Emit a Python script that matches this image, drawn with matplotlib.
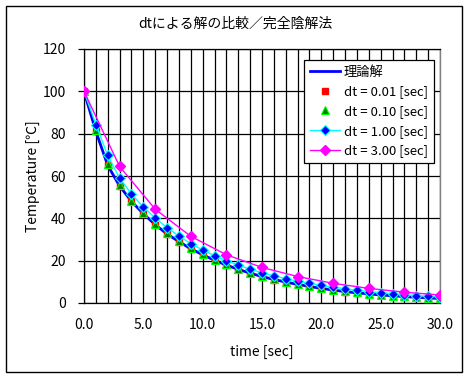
import matplotlib
matplotlib.use('Agg')
import matplotlib.pyplot as plt
from matplotlib.ticker import MultipleLocator, FormatStrFormatter
from matplotlib.patches import Rectangle

plt.rcParams['font.family'] = ['Noto Sans CJK JP', 'DejaVu Sans']

# time [sec]
t = list(range(0, 31))
t3 = list(range(0, 31, 3))

# 理論解
theory = [100, 81.1, 65.0, 55.3, 48.0, 42.2, 37.0, 32.6, 29.0, 25.6, 22.8,
          20.2, 17.9, 15.9, 14.1, 12.5, 11.1, 9.9, 8.8, 7.8, 6.9,
          6.1, 5.4, 4.8, 4.3, 3.8, 3.4, 3.0, 2.7, 2.4, 2.1]
# dt = 0.01
dt001 = [100, 81.1, 65.0, 55.3, 48.0, 42.2, 37.0, 32.6, 29.0, 25.6, 22.8,
         20.2, 17.9, 15.9, 14.1, 12.5, 11.1, 9.9, 8.8, 7.8, 6.9,
         6.1, 5.4, 4.8, 4.3, 3.8, 3.4, 3.0, 2.7, 2.4, 2.1]
# dt = 0.10
dt010 = [100, 81.5, 65.6, 55.8, 48.4, 42.6, 37.4, 33.0, 29.3, 26.0, 23.1,
         20.5, 18.2, 16.2, 14.3, 12.7, 11.3, 10.1, 9.0, 8.0, 7.1,
         6.3, 5.6, 5.0, 4.4, 3.9, 3.5, 3.1, 2.8, 2.5, 2.2]
# dt = 1.00
dt100 = [100, 84.3, 69.7, 59.0, 51.5, 45.3, 40.2, 35.6, 31.6, 28.1, 25.0,
         22.4, 20.0, 17.9, 16.0, 14.3, 12.8, 11.5, 10.3, 9.3, 8.3,
         7.5, 6.7, 6.0, 5.4, 4.9, 4.4, 3.9, 3.5, 3.2, 2.9]
# dt = 3.00
dt300 = [100, 64.5, 44.3, 31.5, 22.8, 16.8, 12.5, 9.3, 6.9, 5.1, 3.8]

fig = plt.figure(figsize=(4.69, 3.80), dpi=100)
ax = fig.add_axes([84 / 469, 77 / 380, 356 / 469, 254 / 380])

ax.plot(t, theory, color='#0000ff', lw=2.0, label='理論解', zorder=3)
ax.plot(t, dt001, ls='none', marker='s', ms=5, mfc='#ff0000', mec='#ff0000',
        label='dt = 0.01 [sec]', zorder=4)
ax.plot(t, dt010, ls='none', marker='^', ms=5.5, mfc='#008000', mec='#00ff00',
        mew=0.8, label='dt = 0.10 [sec]', zorder=5)
ax.plot(t, dt100, color='#00ffff', lw=1.0, marker='D', ms=5.5, mfc='#0000ff',
        mec='#00ffff', mew=0.8, label='dt = 1.00 [sec]', zorder=6)
ax.plot(t3, dt300, color='#ff00ff', lw=1.0, marker='D', ms=5.5, mfc='#ff00ff',
        mec='#ff00ff', label='dt = 3.00 [sec]', zorder=7)

ax.set_xlim(0, 30)
ax.set_ylim(0, 120)
ax.xaxis.set_major_locator(MultipleLocator(5))
ax.xaxis.set_minor_locator(MultipleLocator(1))
ax.xaxis.set_major_formatter(FormatStrFormatter('%.1f'))
ax.yaxis.set_major_locator(MultipleLocator(20))
ax.grid(True, which='both', axis='x', color='black', lw=0.9)
ax.grid(True, which='major', axis='y', color='black', lw=0.9)
ax.set_axisbelow(True)
ax.tick_params(axis='x', which='both', length=0, pad=11, labelsize=10)
ax.tick_params(axis='y', length=4, width=0.9, pad=9, labelsize=10)
for s in ['left', 'bottom', 'top']:
    ax.spines[s].set_color('black')
    ax.spines[s].set_linewidth(0.9)
ax.spines['right'].set_color('#808080')
ax.spines['right'].set_linewidth(1.0)

leg = ax.legend(loc='upper right', bbox_to_anchor=(0.983, 0.957), borderaxespad=0,
                fontsize=9.5, frameon=True, fancybox=False, framealpha=1,
                edgecolor='black', handlelength=2.3, handletextpad=0.3,
                labelspacing=0.5, borderpad=0.45)
leg.get_frame().set_linewidth(0.9)
leg.set_zorder(10)

fig.text(235 / 469, 1 - 24 / 380, 'dtによる解の比較／完全陰解法', ha='center', va='center', fontsize=10)
fig.text(262 / 469, 1 - 352 / 380, 'time [sec]', ha='center', va='center', fontsize=10)
fig.text(33 / 469, 1 - 176 / 380, 'Temperature [℃]', ha='center', va='center',
         rotation=90, fontsize=10)

fig.patches.append(Rectangle((6 / 469, 8 / 380), 456 / 469, 366 / 380,
                             transform=fig.transFigure, fill=False,
                             edgecolor='black', lw=1.0))

fig.savefig('out.png', dpi=100)
